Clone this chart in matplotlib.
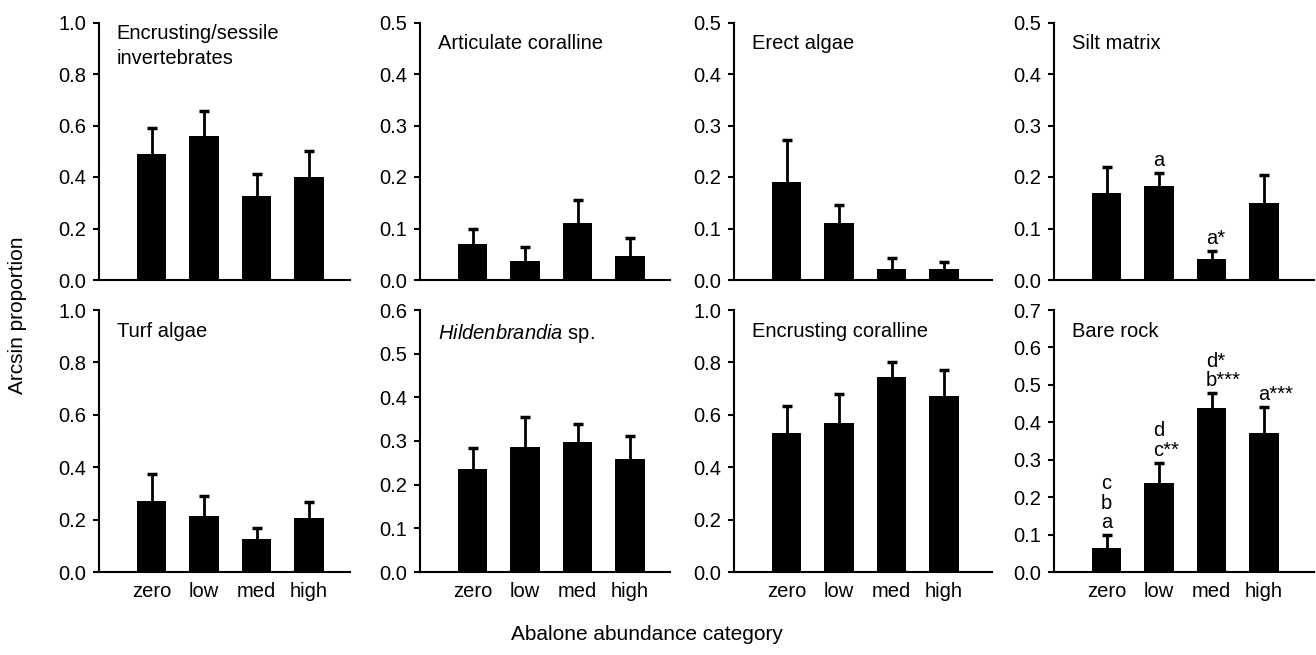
import numpy as np
import matplotlib
matplotlib.use("Agg")
import matplotlib.pyplot as plt

plt.rcParams["font.family"] = ["Liberation Sans", "DejaVu Sans"]
plt.rcParams["mathtext.fontset"] = "custom"
plt.rcParams["mathtext.rm"] = "Liberation Sans"
plt.rcParams["mathtext.it"] = "Liberation Sans:italic"

categories = ["zero", "low", "med", "high"]

# panel titles, top row then bottom row
titles = ["Encrusting/sessile\ninvertebrates", "Articulate coralline", "Erect algae", "Silt matrix",
          "Turf algae", r"$\it{Hildenbrandia}$ sp.", "Encrusting coralline", "Bare rock"]

# means (arcsin proportion)
enc_inv = [0.49, 0.56, 0.325, 0.40]
art_cor = [0.069, 0.037, 0.111, 0.047]
erect = [0.191, 0.111, 0.022, 0.022]
silt = [0.169, 0.183, 0.040, 0.150]
turf = [0.270, 0.213, 0.125, 0.205]
hild = [0.235, 0.287, 0.297, 0.258]
enc_cor = [0.530, 0.568, 0.745, 0.670]
bare = [0.063, 0.238, 0.437, 0.372]

# standard errors (upper only)
enc_inv_se = [0.100, 0.095, 0.085, 0.100]
art_cor_se = [0.031, 0.027, 0.045, 0.035]
erect_se = [0.080, 0.035, 0.021, 0.013]
silt_se = [0.050, 0.025, 0.016, 0.054]
turf_se = [0.105, 0.077, 0.043, 0.063]
hild_se = [0.050, 0.068, 0.041, 0.054]
enc_cor_se = [0.102, 0.110, 0.055, 0.102]
bare_se = [0.035, 0.054, 0.041, 0.068]

means = [enc_inv, art_cor, erect, silt, turf, hild, enc_cor, bare]
ses = [enc_inv_se, art_cor_se, erect_se, silt_se, turf_se, hild_se, enc_cor_se, bare_se]
ymax = [1.0, 0.5, 0.5, 0.5, 1.0, 0.6, 1.0, 0.7]
ystep = [0.2, 0.1, 0.1, 0.1, 0.2, 0.1, 0.2, 0.1]

# significance letters: bar -> lines from bottom to top
silt_letters = {1: ["a"], 2: ["a*"]}
bare_letters = {0: ["a", "b", "c"], 1: ["c**", "d"], 2: ["b***", "d*"], 3: ["a***"]}
letters = {3: silt_letters, 7: bare_letters}

W, H = 1316, 655
fig = plt.figure(figsize=(W / 100, H / 100), dpi=100)

lefts = [99, 420, 734, 1054]
rights = [350, 670, 992, 1314]
row_top = [22.5, 310]
row_bot = [280, 572]
px_per_unit = 52.5
fs = 14.5

x = np.arange(len(categories))
for i in range(8):
    r, c = divmod(i, 4)
    l, rt = lefts[c], rights[c]
    ax = fig.add_axes([l / W, 1 - row_bot[r] / H, (rt - l) / W, (row_bot[r] - row_top[r]) / H])
    ax.bar(x, means[i], width=0.56, color="black", zorder=2)
    eb = ax.errorbar(x, means[i], yerr=[np.zeros(4), ses[i]], fmt="none", ecolor="black",
                     elinewidth=2, capsize=3.5, capthick=2.5, zorder=1)
    eb[1][0].set_visible(False)  # no lower cap
    ax.set_xlim(-1.0, -1.0 + (rt - l) / px_per_unit)
    ax.set_ylim(0, ymax[i])
    ticks = np.arange(0, ymax[i] + 1e-9, ystep[i])
    ax.set_yticks(ticks)
    ax.set_yticklabels(["%.1f" % v for v in ticks], fontsize=fs)
    ax.set_xticks(x)
    if r == 1:
        ax.set_xticklabels(categories, fontsize=fs)
    else:
        ax.set_xticklabels([])
    ax.tick_params(axis="x", length=0, pad=7)
    ax.tick_params(axis="y", length=4, width=1.5, pad=5)
    for s in ["top", "right"]:
        ax.spines[s].set_visible(False)
    for s in ["left", "bottom"]:
        ax.spines[s].set_linewidth(1.5)
    ax.text(0.07, 0.955 if i != 0 else 0.995, titles[i], transform=ax.transAxes,
            ha="left", va="top", fontsize=fs, linespacing=1.4)
    if i in letters:
        for b, lines in letters[i].items():
            top = means[i][b] + ses[i][b]
            for k, s in enumerate(lines):
                ax.annotate(s, xy=(x[b], top), xytext=(-4, 5 + 14 * k),
                            textcoords="offset points", ha="left", va="baseline",
                            fontsize=fs)

fig.text(18 / W, 1 - 315 / H, "Arcsin proportion", rotation=90, ha="center", va="center", fontsize=15)
fig.text(647 / W, 1 - 634 / H, "Abalone abundance category", ha="center", va="center", fontsize=15)

fig.savefig("out.png", dpi=100)
